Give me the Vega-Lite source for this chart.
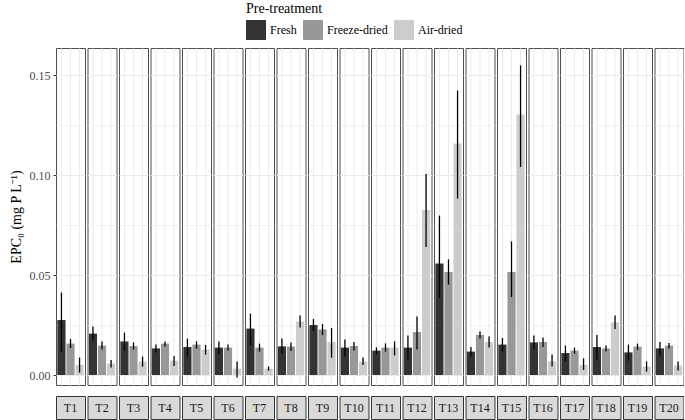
{
  "$schema": "https://vega.github.io/schema/vega-lite/v6.json",
  "padding": {"left": 9, "top": 2, "right": 0, "bottom": 1},
  "config": {
    "font": "Liberation Serif",
    "concat": {"spacing": 9},
    "axis": {"labelFont": "Liberation Serif", "titleFont": "Liberation Serif"},
    "legend": {"labelFont": "Liberation Serif", "titleFont": "Liberation Serif"}
  },
  "data": {"values": [
    {"T":"T1","treat":"Fresh","v":0.0275,"lo":0.0117,"hi":0.0412},
    {"T":"T1","treat":"Freeze-dried","v":0.0157,"lo":0.0135,"hi":0.018},
    {"T":"T1","treat":"Air-dried","v":0.005,"lo":0.0012,"hi":0.0087},
    {"T":"T2","treat":"Fresh","v":0.0207,"lo":0.0172,"hi":0.0242},
    {"T":"T2","treat":"Freeze-dried","v":0.0147,"lo":0.0127,"hi":0.0167},
    {"T":"T2","treat":"Air-dried","v":0.0057,"lo":0.0038,"hi":0.0075},
    {"T":"T3","treat":"Fresh","v":0.0168,"lo":0.0122,"hi":0.0212},
    {"T":"T3","treat":"Freeze-dried","v":0.0145,"lo":0.0127,"hi":0.0163},
    {"T":"T3","treat":"Air-dried","v":0.0067,"lo":0.0042,"hi":0.0092},
    {"T":"T4","treat":"Fresh","v":0.0133,"lo":0.0112,"hi":0.0152},
    {"T":"T4","treat":"Freeze-dried","v":0.0157,"lo":0.0142,"hi":0.0167},
    {"T":"T4","treat":"Air-dried","v":0.0072,"lo":0.0045,"hi":0.0095},
    {"T":"T5","treat":"Fresh","v":0.014,"lo":0.0092,"hi":0.0182},
    {"T":"T5","treat":"Freeze-dried","v":0.0152,"lo":0.0132,"hi":0.0168},
    {"T":"T5","treat":"Air-dried","v":0.0127,"lo":0.0102,"hi":0.015},
    {"T":"T6","treat":"Fresh","v":0.0137,"lo":0.0102,"hi":0.0167},
    {"T":"T6","treat":"Freeze-dried","v":0.0137,"lo":0.0122,"hi":0.0152},
    {"T":"T6","treat":"Air-dried","v":0.0032,"lo":-0.0012,"hi":0.0067},
    {"T":"T7","treat":"Fresh","v":0.0232,"lo":0.0148,"hi":0.0307},
    {"T":"T7","treat":"Freeze-dried","v":0.0137,"lo":0.0117,"hi":0.0157},
    {"T":"T7","treat":"Air-dried","v":0.0032,"lo":0.0022,"hi":0.0042},
    {"T":"T8","treat":"Fresh","v":0.0143,"lo":0.0107,"hi":0.0182},
    {"T":"T8","treat":"Freeze-dried","v":0.0142,"lo":0.012,"hi":0.0162},
    {"T":"T8","treat":"Air-dried","v":0.0267,"lo":0.0237,"hi":0.0297},
    {"T":"T9","treat":"Fresh","v":0.025,"lo":0.022,"hi":0.028},
    {"T":"T9","treat":"Freeze-dried","v":0.0228,"lo":0.02,"hi":0.0255},
    {"T":"T9","treat":"Air-dried","v":0.0165,"lo":0.0087,"hi":0.0235},
    {"T":"T10","treat":"Fresh","v":0.0137,"lo":0.0092,"hi":0.0177},
    {"T":"T10","treat":"Freeze-dried","v":0.0145,"lo":0.0122,"hi":0.0165},
    {"T":"T10","treat":"Air-dried","v":0.0067,"lo":0.005,"hi":0.0088},
    {"T":"T11","treat":"Fresh","v":0.0122,"lo":0.0103,"hi":0.0138},
    {"T":"T11","treat":"Freeze-dried","v":0.0137,"lo":0.0117,"hi":0.0158},
    {"T":"T11","treat":"Air-dried","v":0.0137,"lo":0.0098,"hi":0.0168},
    {"T":"T12","treat":"Fresh","v":0.0137,"lo":0.0072,"hi":0.0197},
    {"T":"T12","treat":"Freeze-dried","v":0.0215,"lo":0.0128,"hi":0.0292},
    {"T":"T12","treat":"Air-dried","v":0.0825,"lo":0.064,"hi":0.1005},
    {"T":"T13","treat":"Fresh","v":0.0558,"lo":0.0385,"hi":0.0797},
    {"T":"T13","treat":"Freeze-dried","v":0.0515,"lo":0.0452,"hi":0.0578},
    {"T":"T13","treat":"Air-dried","v":0.1158,"lo":0.0882,"hi":0.1422},
    {"T":"T14","treat":"Fresh","v":0.0117,"lo":0.0092,"hi":0.014},
    {"T":"T14","treat":"Freeze-dried","v":0.02,"lo":0.0182,"hi":0.0217},
    {"T":"T14","treat":"Air-dried","v":0.0165,"lo":0.0138,"hi":0.0192},
    {"T":"T15","treat":"Fresh","v":0.0152,"lo":0.0117,"hi":0.0185},
    {"T":"T15","treat":"Freeze-dried","v":0.0515,"lo":0.039,"hi":0.0668},
    {"T":"T15","treat":"Air-dried","v":0.1302,"lo":0.104,"hi":0.1548},
    {"T":"T16","treat":"Fresh","v":0.0163,"lo":0.0128,"hi":0.0197},
    {"T":"T16","treat":"Freeze-dried","v":0.0165,"lo":0.014,"hi":0.0188},
    {"T":"T16","treat":"Air-dried","v":0.0068,"lo":0.0042,"hi":0.0102},
    {"T":"T17","treat":"Fresh","v":0.011,"lo":0.0067,"hi":0.0147},
    {"T":"T17","treat":"Freeze-dried","v":0.0122,"lo":0.0107,"hi":0.0137},
    {"T":"T17","treat":"Air-dried","v":0.005,"lo":0.0025,"hi":0.0083},
    {"T":"T18","treat":"Fresh","v":0.014,"lo":0.0072,"hi":0.02},
    {"T":"T18","treat":"Freeze-dried","v":0.0133,"lo":0.0118,"hi":0.0147},
    {"T":"T18","treat":"Air-dried","v":0.0263,"lo":0.023,"hi":0.0297},
    {"T":"T19","treat":"Fresh","v":0.0113,"lo":0.0072,"hi":0.0152},
    {"T":"T19","treat":"Freeze-dried","v":0.0142,"lo":0.0125,"hi":0.0157},
    {"T":"T19","treat":"Air-dried","v":0.0042,"lo":0.0017,"hi":0.0068},
    {"T":"T20","treat":"Fresh","v":0.0133,"lo":0.0097,"hi":0.0165},
    {"T":"T20","treat":"Freeze-dried","v":0.0147,"lo":0.0132,"hi":0.016},
    {"T":"T20","treat":"Air-dried","v":0.0047,"lo":0.0023,"hi":0.0067}
  ]},
  "vconcat": [
    {
      "bounds": "flush",
      "facet": {"column": {"field": "T", "type": "nominal",
        "sort": ["T1","T2","T3","T4","T5","T6","T7","T8","T9","T10","T11","T12","T13","T14","T15","T16","T17","T18","T19","T20"],
        "header": {"title": null, "labels": false}}},
      "spacing": {"column": 2.5},
      "spec": {
        "width": 29,
        "height": 337,
        "view": {"stroke": "#4d4d4d", "strokeWidth": 1},
        "encoding": {
          "x": {"field": "treat", "type": "nominal", "sort": ["Fresh","Freeze-dried","Air-dried"],
            "scale": {"paddingInner": 0.1, "paddingOuter": 0.15},
            "axis": {"title": null, "labels": false, "ticks": false, "domain": false, "grid": true, "gridColor": "#ebebeb", "gridWidth": 1, "bandPosition": 0.5}}
        },
        "layer": [
          {
            "mark": {"type": "bar"},
            "encoding": {
              "y": {"field": "v", "type": "quantitative",
                "scale": {"domain": [-0.005, 0.1635], "nice": false, "zero": false},
                "axis": {
                  "title": "EPC₀ (mg P L⁻¹)",
                  "titleFontSize": 14, "titleFontWeight": "normal", "titleColor": "#000000", "titlePadding": 6,
                  "values": [0, 0.025, 0.05, 0.075, 0.1, 0.125, 0.15],
                  "labelExpr": "round(datum.value*1000) % 50 == 0 ? format(datum.value, '.2f') : ''",
                  "labelFontSize": 12, "labelColor": "#4d4d4d", "labelPadding": 3,
                  "tickColor": "#333333", "tickSize": 3,
                  "tickOpacity": {"condition": {"test": "round(datum.value*1000) % 50 == 0", "value": 1}, "value": 0},
                  "domain": false,
                  "grid": true, "gridColor": "#ebebeb",
                  "gridWidth": {"condition": {"test": "round(datum.value*1000) % 50 == 0", "value": 1}, "value": 0.6}
                }},
              "y2": {"datum": 0},
              "color": {"field": "treat", "type": "nominal",
                "scale": {"domain": ["Fresh","Freeze-dried","Air-dried"], "range": ["#333333","#989898","#cccccc"]},
                "legend": {"title": "Pre-treatment", "orient": "none", "direction": "horizontal",
                  "legendX": 190, "legendY": -46,
                  "symbolType": "square", "symbolSize": 400, "symbolStrokeWidth": 0,
                  "titleFontSize": 14, "titleFontWeight": "normal", "titleColor": "#000000", "titlePadding": 4,
                  "labelFontSize": 12, "labelColor": "#000000", "labelOffset": 4, "columnPadding": 6}}
            }
          },
          {
            "mark": {"type": "rule", "color": "#000000", "strokeWidth": 1.3},
            "encoding": {
              "y": {"field": "lo", "type": "quantitative"},
              "y2": {"field": "hi"}
            }
          }
        ]
      }
    },
    {
      "bounds": "flush",
      "transform": [{"aggregate": [{"op": "count", "as": "n"}], "groupby": ["T"]}],
      "facet": {"column": {"field": "T", "type": "nominal",
        "sort": ["T1","T2","T3","T4","T5","T6","T7","T8","T9","T10","T11","T12","T13","T14","T15","T16","T17","T18","T19","T20"],
        "header": {"title": null, "labels": false}}},
      "spacing": {"column": 2.5},
      "spec": {
        "width": 29,
        "height": 23,
        "view": {"fill": "#d9d9d9", "stroke": "#333333", "strokeWidth": 1},
        "mark": {"type": "text", "fontSize": 12, "color": "#1a1a1a", "font": "Liberation Serif"},
        "encoding": {"text": {"field": "T", "type": "nominal"}}
      }
    }
  ]
}
